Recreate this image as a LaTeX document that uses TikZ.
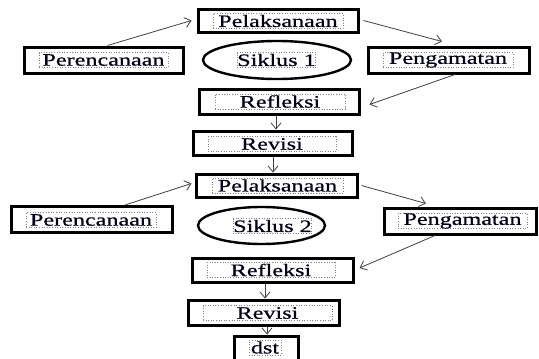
\documentclass[tikz,border=0pt]{standalone}
\usepackage{fontspec}
\setmainfont{Liberation Serif}[FakeStretch=1.38,FakeBold=0.6]
\usetikzlibrary{arrows.meta,shapes.geometric}
\begin{document}
\begin{tikzpicture}[x=1pt,y=-1pt,
  box/.style={draw=black,line width=3pt,rectangle,inner sep=0pt},
  oval/.style={draw=black,line width=2.4pt,ellipse,inner sep=0pt},
  lbl/.style={draw=gray,dotted,line width=0.6pt,inner sep=0pt,minimum height=15pt,
    font=\fontsize{17.5}{19}\selectfont,text=black!90!blue},
  arr/.style={draw=black!75,line width=0.8pt,-{Straight Barb[length=6pt,width=10pt]}}]
\clip (0,0) rectangle (539,359);
\fill[white] (0,0) rectangle (539,359);
% cycle 1
\node[box,minimum width=160pt,minimum height=23pt] (pel1) at (278,20.5) {};
\node[lbl,minimum width=130pt] (pel1t) at (278,21) {Pelaksanaan};
\node[box,minimum width=159pt,minimum height=26pt] (per1) at (103.5,60) {};
\node[lbl,minimum width=129pt] (per1t) at (103.5,60) {Perencanaan};
\node[oval,minimum width=148pt,minimum height=38pt] (sik1) at (277,60) {};
\node[lbl,minimum width=75pt] (sik1t) at (276.5,60) {Siklus 1};
\node[box,minimum width=161pt,minimum height=26pt] (pen1) at (448.5,60) {};
\node[lbl,minimum width=130pt] (pen1t) at (448,60) {Pengamatan};
\node[box,minimum width=160pt,minimum height=25pt] (ref1) at (279,101.5) {};
\node[lbl,minimum width=130pt] (ref1t) at (280,101.5) {Refleksi};
\node[box,minimum width=159pt,minimum height=24pt] (rev1) at (272.5,143) {};
\node[lbl,minimum width=128pt] (rev1t) at (272,144) {Revisi};
% cycle 2
\node[box,minimum width=161pt,minimum height=23pt] (pel2) at (276.5,185.5) {};
\node[lbl,minimum width=131pt] (pel2t) at (277.5,185.5) {Pelaksanaan};
\node[box,minimum width=161pt,minimum height=26pt] (per2) at (91.5,219.5) {};
\node[lbl,minimum width=130pt] (per2t) at (91,220) {Perencanaan};
\node[oval,minimum width=127pt,minimum height=37pt] (sik2) at (261.5,225.5) {};
\node[lbl,minimum width=74pt] (sik2t) at (272.5,226) {Siklus 2};
\node[box,minimum width=152pt,minimum height=26pt] (pen2) at (460,221) {};
\node[lbl,minimum width=129pt] (pen2t) at (462.5,221) {Pengamatan};
\node[box,minimum width=161pt,minimum height=24pt] (ref2) at (272.5,270) {};
\node[lbl,minimum width=128pt] (ref2t) at (271,270) {Refleksi};
\node[box,minimum width=151pt,minimum height=25pt] (rev2) at (263.5,312.5) {};
\node[lbl,minimum width=129pt] (rev2t) at (267.5,313) {Revisi};
\node[box,minimum width=64pt,minimum height=34pt] (dst) at (266,353) {};
\node[lbl,minimum width=32pt] (dstt) at (265,347.5) {dst};
% connectors
\coordinate (a1) at ([xshift=-3pt]ref1.south);
\coordinate (a2) at ([xshift=0.5pt]rev1.south);
\coordinate (a3) at ([xshift=-7.5pt]ref2.south);
\coordinate (a4) at ([xshift=3.5pt]rev2.south);
\draw[arr] ([xshift=4pt]per1.north) -- ([xshift=-5pt]pel1.west);
\draw[arr] ([xshift=4pt]pel1.east) -- ([xshift=-6.5pt,yshift=4pt]pen1.north);
\draw[arr] ([xshift=6.5pt]pen1.south) -- ([xshift=9pt,yshift=-3pt]ref1.east);
\draw[arr] (a1) -- (a1 |- rev1.north);
\draw[arr] (a2) -- (a2 |- pel2.north);
\draw[arr] ([xshift=33.5pt]per2.north) -- ([xshift=-3pt,yshift=2pt]pel2.west);
\draw[arr] ([xshift=3pt]pel2.east) -- ([xshift=-34pt,yshift=3pt]pen2.north);
\draw[arr] ([xshift=-25pt]pen2.south) -- ([xshift=5pt,yshift=2pt]ref2.east);
\draw[arr] (a3) -- (a3 |- rev2.north);
\draw[arr] (a4) -- (a4 |- dst.north);
\end{tikzpicture}
\end{document}
